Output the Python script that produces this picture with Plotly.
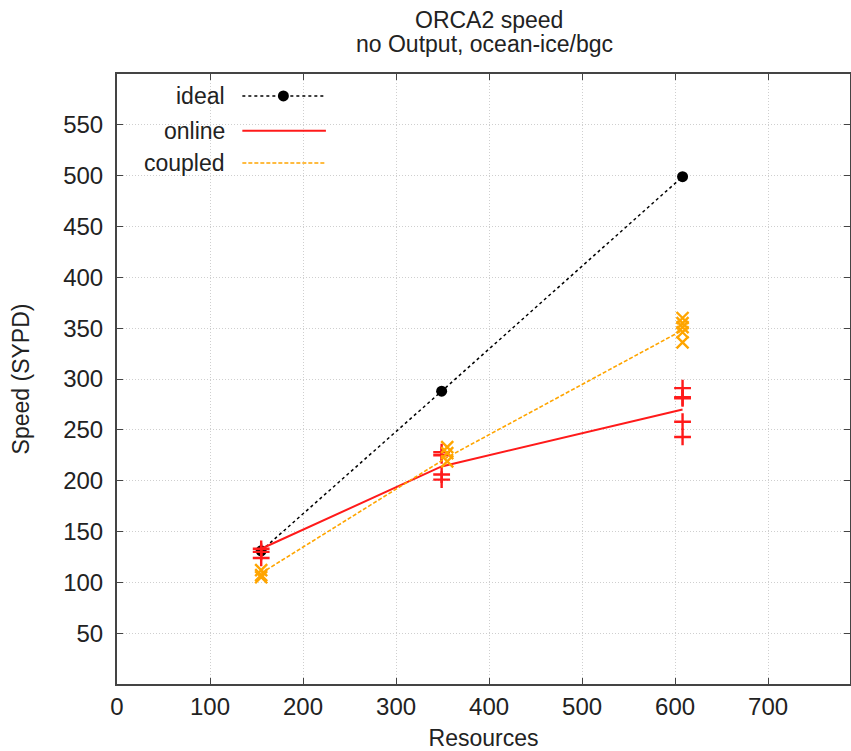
import plotly.graph_objects as go

# ---- data ----
ideal_x = [155, 349, 608]
ideal_y = [131, 288, 499]

online_line_x = [155, 349, 608]
online_line_y = [133, 214, 270]
online_pts_x = [155, 155, 155, 349, 349, 349, 349, 608, 608, 608, 608, 608]
online_pts_y = [133, 130, 124, 228, 225, 206, 201, 291, 282, 281, 258, 243]

coupled_line_x = [155, 355, 608]
coupled_line_y = [109, 223, 348]
coupled_pts_x = [155, 155, 155, 355, 355, 355, 608, 608, 608, 608, 608]
coupled_pts_y = [112, 107, 105, 233, 227, 219, 360, 355, 351, 346, 336]

x_ticks = [0, 100, 200, 300, 400, 500, 600, 700]
y_ticks = [50, 100, 150, 200, 250, 300, 350, 400, 450, 500, 550]

legend_names = ["ideal", "online", "coupled"]

RED = "#ff1a1a"
ORANGE = "#ffa500"
FONT = "Liberation Sans"

fig = go.Figure()

fig.add_trace(go.Scatter(x=ideal_x, y=ideal_y, mode="lines+markers",
                         line=dict(color="black", width=1.5, dash="3px,3px"),
                         marker=dict(color="black", size=11, symbol="circle"),
                         showlegend=False))
fig.add_trace(go.Scatter(x=online_line_x, y=online_line_y, mode="lines",
                         line=dict(color=RED, width=2), showlegend=False))
fig.add_trace(go.Scatter(x=online_pts_x, y=online_pts_y, mode="markers",
                         marker=dict(symbol="cross-thin", size=12,
                                     line=dict(color=RED, width=2.4)),
                         showlegend=False))
fig.add_trace(go.Scatter(x=coupled_line_x, y=coupled_line_y, mode="lines",
                         line=dict(color=ORANGE, width=1.6, dash="4px,2px"),
                         showlegend=False))
fig.add_trace(go.Scatter(x=coupled_pts_x, y=coupled_pts_y, mode="markers",
                         marker=dict(symbol="x-thin", size=12,
                                     line=dict(color=ORANGE, width=2.4)),
                         showlegend=False))

# ---- hand-made legend (text left of sample, as in gnuplot) ----
shapes = [dict(type="rect", xref="paper", yref="paper", x0=0.002, x1=0.302,
               y0=0.83, y1=0.998, fillcolor="white", line=dict(width=0),
               layer="between")]
rows_y = [0.964, 0.907, 0.854]
styles = [dict(color="black", width=1.5, dash="3px,3px"),
          dict(color=RED, width=2),
          dict(color=ORANGE, width=1.6, dash="4px,2px")]
annotations = []
for name, ry, st in zip(legend_names, rows_y, styles):
    shapes.append(dict(type="line", xref="paper", yref="paper", x0=0.171, x1=0.285,
                       y0=ry, y1=ry, line=st, layer="above"))
    annotations.append(dict(text=name, xref="paper", yref="paper", x=0.150, y=ry,
                            xanchor="right", yanchor="middle", showarrow=False,
                            font=dict(family=FONT, size=23, color="#222")))
shapes.append(dict(type="circle", xref="paper", yref="paper", xsizemode="pixel",
                   ysizemode="pixel", xanchor=0.227, yanchor=rows_y[0],
                   x0=-5.5, x1=5.5, y0=-5.5, y1=5.5, fillcolor="black",
                   line=dict(color="black", width=0), layer="above"))

annotations.append(dict(text="ORCA2 speed", xref="paper", yref="paper", x=0.508,
                        y=1.088, xanchor="center", yanchor="middle", showarrow=False,
                        font=dict(family=FONT, size=23, color="#222")))
annotations.append(dict(text="no Output, ocean-ice/bgc", xref="paper", yref="paper",
                        x=0.502, y=1.049, xanchor="center", yanchor="middle",
                        showarrow=False, font=dict(family=FONT, size=23, color="#222")))

axis_common = dict(showline=True, linecolor="#444", linewidth=2, mirror="allticks",
                   ticks="inside", ticklen=6, tickcolor="#444", tickwidth=1,
                   showgrid=True, gridcolor="#cfcfcf", griddash="1px,2px", gridwidth=1,
                   zeroline=False, tickfont=dict(family=FONT, size=24, color="#222"))

fig.update_layout(
    width=851, height=751,
    margin=dict(l=117, r=1, t=74, b=67, autoexpand=False),
    paper_bgcolor="white", plot_bgcolor="white",
    shapes=shapes, annotations=annotations,
    xaxis=dict(range=[0, 788], tickvals=x_ticks,
               title=dict(text="Resources", standoff=12,
                          font=dict(family=FONT, size=23, color="#222")),
               **axis_common),
    yaxis=dict(range=[0, 600], tickvals=y_ticks, ticklabelstandoff=7,
               title=dict(text="Speed (SYPD)", standoff=27,
                          font=dict(family=FONT, size=23, color="#222")),
               **axis_common),
)

fig.write_html("out.html", config={"displayModeBar": False},
               post_script="document.body.style.margin='0';document.body.style.overflow='hidden';")
